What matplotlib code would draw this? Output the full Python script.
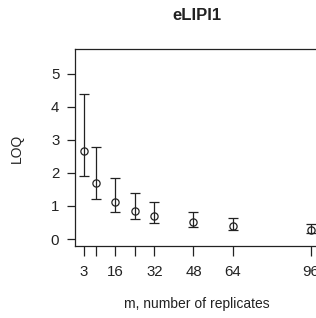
import matplotlib
matplotlib.use("Agg")
import matplotlib.pyplot as plt

plt.rcParams['font.family'] = ['Liberation Sans', 'DejaVu Sans']

# replicates vs LOQ, with lower / upper whiskers
m_values = [3, 8, 16, 24, 32, 48, 64, 96]
loq = [2.67, 1.69, 1.12, 0.85, 0.69, 0.50, 0.39, 0.27]
loq_low = [1.91, 1.21, 0.81, 0.60, 0.48, 0.35, 0.28, 0.19]
loq_high = [4.37, 2.79, 1.83, 1.40, 1.13, 0.82, 0.64, 0.45]
x_tick_labels = ["3", "", "16", "", "32", "48", "64", "96"]
y_ticks = [0, 1, 2, 3, 4, 5]

DARK = "#222222"


def main():
    fig = plt.figure(figsize=(3.16, 3.18), dpi=100)
    ax = fig.add_axes([0.2358, 0.2264, 0.7759, 0.6195])

    err = [[v - lo for v, lo in zip(loq, loq_low)],
           [hi - v for v, hi in zip(loq, loq_high)]]
    ax.errorbar(m_values, loq, yerr=err, fmt='o', mfc='none', mec=DARK,
                ms=5.2, mew=0.9, ecolor=DARK, elinewidth=0.9,
                capsize=3.8, capthick=0.9, clip_on=False)

    ax.set_xlim(-0.72, 99.72)
    ax.set_ylim(-0.21, 5.74)
    ax.set_xticks(m_values)
    ax.set_xticklabels(x_tick_labels)
    ax.set_yticks(y_ticks)

    for side in ['left', 'top', 'bottom', 'right']:
        ax.spines[side].set_color(DARK)
        ax.spines[side].set_linewidth(0.9)

    ax.tick_params(axis='x', length=7, width=0.9, pad=6.5, labelsize=10.8,
                   color=DARK, labelcolor=DARK)
    ax.tick_params(axis='y', length=6, width=0.9, pad=5, labelsize=10.8,
                   color=DARK, labelcolor=DARK)

    fig.text(0.6225, 0.95, "eLIPI1", ha='center', va='center',
             fontsize=12, fontweight='bold', color=DARK)
    fig.text(0.6225, 1 - 304 / 318, "m, number of replicates", ha='center',
             va='center', fontsize=10, color=DARK)
    fig.text(17 / 316, 1 - 148 / 318, "LOQ", ha='center', va='center',
             rotation=90, fontsize=10, color=DARK)

    fig.savefig("out.png", dpi=100)


if __name__ == "__main__":
    main()
